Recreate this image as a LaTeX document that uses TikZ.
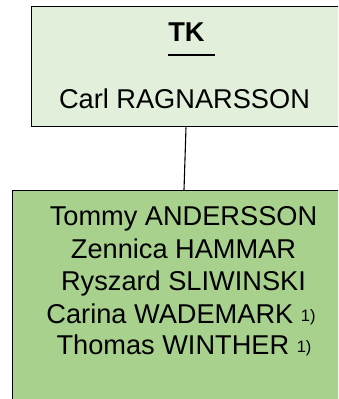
\documentclass[tikz,border=0pt]{standalone}
\usepackage{fontspec}
\setmainfont{Liberation Sans}
\definecolor{topfill}{HTML}{E2EFDA}
\definecolor{lowfill}{HTML}{A9D18E}
\newcommand{\fn}{\ {\fontsize{16.5}{16.5}\selectfont\raisebox{2pt}{1)}}}
\begin{document}
\begin{tikzpicture}[x=1pt,y=-1pt,
  boxstyle/.style={draw=black, line width=1.3pt, rectangle, inner sep=0pt, anchor=north west},
  txt/.style={inner sep=0pt, anchor=base, font=\fontsize{27.2}{32}\selectfont},
  link/.style={draw=black, line width=1.1pt}]
\useasboundingbox (0,0) rectangle (338,399);
\clip (0,0) rectangle (338,399);
\node[boxstyle, fill=topfill, minimum width=340pt, minimum height=120pt] (top) at (31,6) {};
\node[boxstyle, fill=lowfill, minimum width=360pt, minimum height=230pt] (low) at (12,190) {};
\path (top.south west) ++(155,0) coordinate (ta);
\path (low.north west) ++(172,0) coordinate (lb);
\draw[link] (ta) -- (lb);
\node[txt] (tk) at (186.5,41.7) {\bfseries\rlap{\rule[-14.5pt]{47pt}{2.5pt}}TK};
\node[txt] (carl) at (184.5,108) {Carl RAGNARSSON};
\node[txt] (m1) at (183.5,225) {Tommy ANDERSSON};
\node[txt] (m2) at (183.5,258) {Zennica HAMMAR};
\node[txt] (m3) at (183.5,290.5) {Ryszard SLIWINSKI};
\node[txt] (m4) at (181,323) {Carina WADEMARK\fn};
\node[txt] (m5) at (184,354) {Thomas WINTHER\fn};
\end{tikzpicture}
\end{document}
